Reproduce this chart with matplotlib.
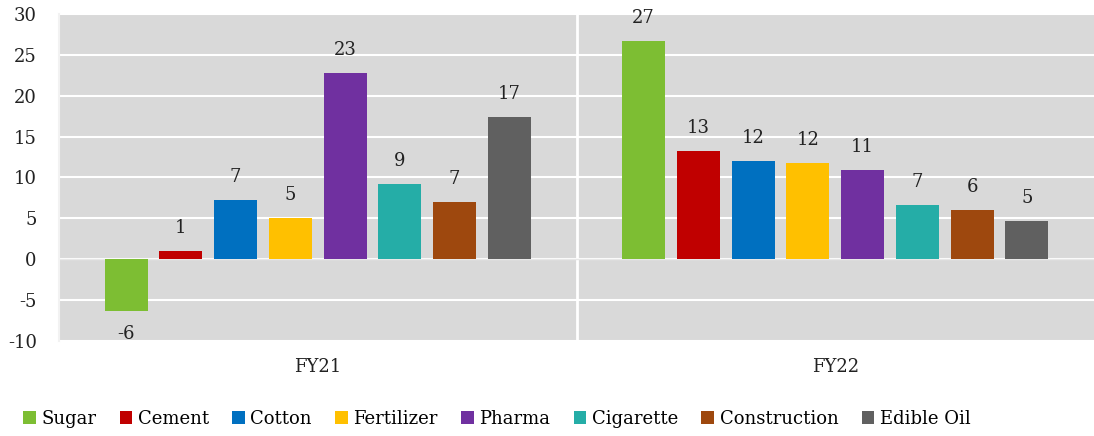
import numpy as np
import matplotlib.pyplot as plt

# growth by sector, FY21 vs FY22
years = ['FY21', 'FY22']
sectors = ['Sugar', 'Cement', 'Cotton', 'Fertilizer', 'Pharma',
           'Cigarette', 'Construction', 'Edible Oil']
fy21 = [-6.3, 1.0, 7.3, 5.1, 22.8, 9.2, 7.0, 17.4]
fy22 = [26.7, 13.3, 12.0, 11.8, 10.9, 6.6, 6.0, 4.7]
colors = ['#7DBE33', '#C00000', '#0070C0', '#FFC000', '#7030A0',
          '#25ADA7', '#9E480E', '#606060']

plt.rcParams['font.family'] = ['DejaVu Serif']
plt.rcParams['axes.unicode_minus'] = False

fig = plt.figure(figsize=(10.94, 4.36), dpi=100)
ax = fig.add_axes([59 / 1094, 95 / 436, 1035 / 1094, 327 / 436])
ax.set_facecolor('#D9D9D9')

data = np.array([fy21, fy22])
x = np.arange(len(years))
slot = 0.1058
width = 0.083
for i, s in enumerate(sectors):
    pos = x + (i - 3.5) * slot
    vals = data[:, i]
    ax.bar(pos, vals, width, color=colors[i], label=s, zorder=3)
    for p, v in zip(pos, vals):
        if v >= 0:
            ax.annotate(f'{v:.0f}', (p, v), xytext=(0, 10), textcoords='offset points',
                        ha='center', va='bottom', fontsize=13, color='#222222')
        else:
            ax.annotate(f'{v:.0f}', (p, v), xytext=(0, -10), textcoords='offset points',
                        ha='center', va='top', fontsize=13, color='#222222')

ax.set_xlim(-0.5, 1.5)
ax.set_ylim(-10, 30)
ax.set_yticks(range(-10, 31, 5))
ax.set_xticks(x)
ax.set_xticklabels(years)
ax.yaxis.grid(True, color='white', linewidth=1.5, zorder=1)
ax.axvline(0.5, color='white', linewidth=2, zorder=2)
ax.axhline(0, color='#E8E8E8', linewidth=1, zorder=2)
for sp in ['top', 'right', 'bottom']:
    ax.spines[sp].set_visible(False)
ax.spines['left'].set_color('#F2F2F2')
ax.spines['left'].set_linewidth(1.5)
ax.tick_params(axis='both', length=0, labelsize=13, colors='#222222')
ax.tick_params(axis='y', pad=16)
ax.tick_params(axis='x', pad=12)

ax.legend(loc='upper center', bbox_to_anchor=(0.423, -0.16), ncol=8, frameon=False,
          fontsize=13, handlelength=0.7, handleheight=0.7, handletextpad=0.3,
          columnspacing=1.3)

fig.savefig('out.png', dpi=100)
